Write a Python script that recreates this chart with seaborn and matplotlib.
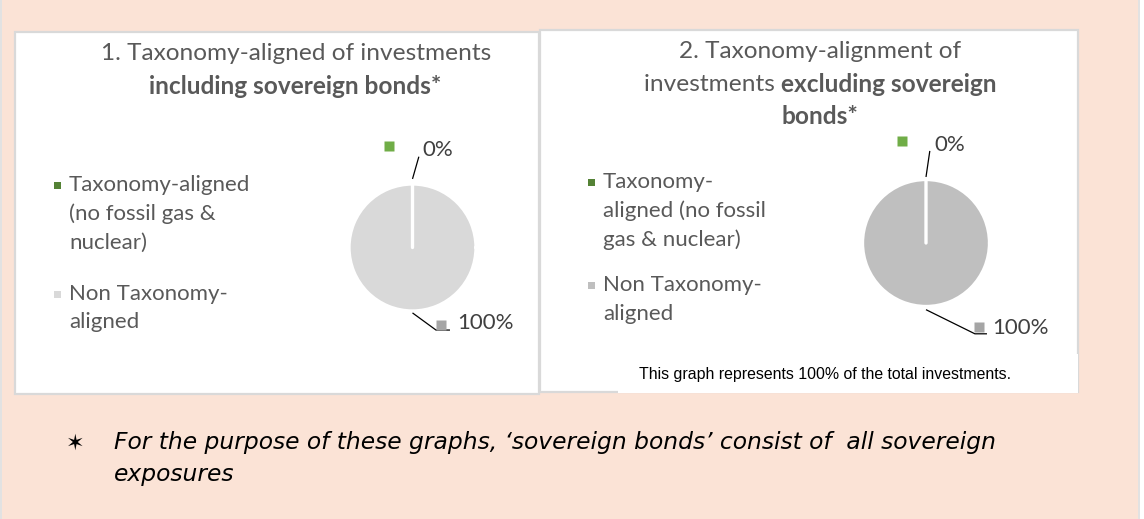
import matplotlib
matplotlib.use("Agg")
import matplotlib.pyplot as plt
from matplotlib.patches import Rectangle
import numpy as np
import seaborn as sns

# ---- data -------------------------------------------------------------
categories = ["Taxonomy-aligned (no fossil gas & nuclear)", "Non Taxonomy-aligned"]
incl_sovereign = [0, 100]   # % of investments, including sovereign bonds
excl_sovereign = [0, 100]   # % of investments, excluding sovereign bonds

legend_lines_1 = [["Taxonomy-aligned", "(no fossil gas &", "nuclear)"],
                  ["Non Taxonomy-", "aligned"]]
legend_lines_2 = [["Taxonomy-", "aligned (no fossil", "gas & nuclear)"],
                  ["Non Taxonomy-", "aligned"]]

title_1 = [("1. Taxonomy-aligned of investments", "normal"),
           ("including sovereign bonds*", "bold")]
title_2_line1 = "2. Taxonomy-alignment of"
title_2_line2 = ("investments ", "excluding sovereign")
title_2_line3 = "bonds*"

note_text = "This graph represents 100% of the total investments."
footnote = ["For the purpose of these graphs, \u2018sovereign bonds\u2019 consist of  all sovereign",
            "exposures"]

# ---- styling ----------------------------------------------------------
sns.set_theme(style="white")
plt.rcParams["font.family"] = ["Lato", "DejaVu Sans"]

W, H = 1144, 519
PEACH = "#FBE3D6"
BORDER = "#D9D9D9"
TXT = "#595959"
LEGEND_GREEN = "#548235"
LABEL_GREEN = "#70AD47"
LABEL_GRAY = "#A5A5A5"

fig = plt.figure(figsize=(W / 100, H / 100), dpi=100)
fig.patch.set_facecolor("white")


def fx(x):
    return x / W


def fy(y):
    return 1 - y / H


def box(x0, y0, x1, y1, face, edge=None, lw=1.0, z=0):
    fig.patches.append(Rectangle((fx(x0), fy(y1)), fx(x1) - fx(x0), fy(y0) - fy(y1),
                                 transform=fig.transFigure, facecolor=face,
                                 edgecolor=edge if edge else "none", linewidth=lw,
                                 zorder=z))


# page background with grey side rules
box(0, 0, 1140, H, PEACH, z=0)
box(0, 0, 2, H, "#E2E2E2", z=0.5)
box(1137.5, 0, 1140, H, "#E2E2E2", z=0.5)

# two chart panels and the note box
box(15, 32, 539, 394, "white", BORDER, 1.6, z=1)
box(540, 30, 1078, 392, "white", BORDER, 1.6, z=1)
box(618, 354, 1078, 393, "white", None, z=1.1)

FS = 17.6     # titles
FL = 16.0     # legend and data labels

# titles
fig.text(fx(296.5), fy(53), title_1[0][0], ha="center", va="center", fontsize=FS,
         color=TXT, fontweight=title_1[0][1])
fig.text(fx(295.5), fy(86), title_1[1][0], ha="center", va="center", fontsize=FS,
         color=TXT, fontweight=title_1[1][1])
fig.text(fx(820), fy(52), title_2_line1, ha="center", va="center", fontsize=FS, color=TXT)
t_a = fig.text(fx(820), fy(85), title_2_line2[0], ha="left", va="center",
               fontsize=FS, color=TXT)
t_b = fig.text(fx(820), fy(85), title_2_line2[1], ha="left", va="center",
               fontsize=FS, color=TXT, fontweight="bold")
fig.text(fx(820), fy(117), title_2_line3, ha="center", va="center", fontsize=FS,
         color=TXT, fontweight="bold")

# centre the mixed-weight second line of title 2
fig.canvas.draw()
r = fig.canvas.get_renderer()
wa = t_a.get_window_extent(r).width
wb = t_b.get_window_extent(r).width
start = 820 - (wa + wb) / 2
t_a.set_x(fx(start))
t_b.set_x(fx(start + wa))


def legend(x_sq, x_txt, y_groups, lines, colors):
    for group_y, group, col in zip(y_groups, lines, colors):
        box(x_sq - 3.5, group_y[0] - 3.5, x_sq + 3.5, group_y[0] + 3.5, col, z=2)
        for yy, line in zip(group_y, group):
            fig.text(fx(x_txt), fy(yy), line, ha="left", va="center",
                     fontsize=FL, color=TXT)


legend(57, 69, [[185, 214, 243], [294, 322]], legend_lines_1,
       [LEGEND_GREEN, "#D9D9D9"])
legend(591, 603, [[182, 211, 240], [285, 314]], legend_lines_2,
       [LEGEND_GREEN, "#BFBFBF"])


def pie(values, cx, cy, R, face, lab):
    ax = fig.add_axes([fx(cx - 2 * R), fy(cy + 2 * R), 4 * R / W, 4 * R / H])
    ax.set_zorder(5)
    ax.patch.set_alpha(0)
    wedges, _ = ax.pie(values, colors=[LABEL_GREEN, face], startangle=90,
                       counterclock=False, radius=1,
                       wedgeprops=dict(edgecolor="white", linewidth=2.4,
                                       joinstyle="round", capstyle="round"))
    wedges[0].set_zorder(wedges[1].get_zorder() + 1)
    ax.set_xlim(-2, 2)
    ax.set_ylim(-2, 2)
    ax.set_axis_off()
    marker_cols = [LABEL_GREEN, LABEL_GRAY]
    for w, v, mc, spec in zip(wedges, values, marker_cols, lab):
        mid = np.deg2rad((w.theta1 + w.theta2) / 2)
        r0, end, elbow_x, (mx, my), (tx, ty) = spec
        sx, sy = r0 * np.cos(mid), r0 * np.sin(mid)
        xs, ys = [sx, end[0]], [sy, end[1]]
        if elbow_x is not None:
            xs.append(elbow_x)
            ys.append(end[1])
        ax.plot(xs, ys, color="black", lw=0.9, solid_capstyle="butt", clip_on=False)
        ax.plot([mx], [my], marker="s", ms=7.2, color=mc, mec="none", clip_on=False,
                zorder=4)
        ax.text(tx, ty, f"{v:.0f}%", ha="left", va="center", fontsize=FL,
                color="#404040", clip_on=False)
    return ax


# label layout per wedge:
# (leader start radius, leader end, elbow x, marker centre, text anchor)
pie(incl_sovereign, 412.5, 247.5, 63.5, "#D9D9D9",
    [(1.08, (0.10, 1.43), None, (-0.37, 1.60), (0.15, 1.54)),
     (1.03, (0.37, -1.30), 0.59, (0.45, -1.22), (0.70, -1.19))])
pie(excl_sovereign, 926, 243, 63.5, "#BFBFBF",
    [(1.04, (0.06, 1.45), None, (-0.38, 1.61), (0.13, 1.54)),
     (1.05, (0.77, -1.43), 0.96, (0.83, -1.32), (1.05, -1.34))])

# note inside panel 2
fig.text(fx(825), fy(375), note_text, ha="center", va="center", fontsize=11.4,
         color="black", family=["Liberation Sans", "DejaVu Sans"])

# footnote with star bullet
fig.text(fx(75), fy(444), "\u2736", ha="center", va="center", fontsize=16,
         color="black", family=["DejaVu Sans"])
fig.text(fx(114), fy(443), footnote[0], ha="left", va="center", fontsize=16.8,
         color="black", style="italic", family=["DejaVu Sans"])
fig.text(fx(114), fy(475), footnote[1], ha="left", va="center", fontsize=16.8,
         color="black", style="italic", family=["DejaVu Sans"])

fig.savefig("out.png", dpi=100, facecolor=fig.get_facecolor())
